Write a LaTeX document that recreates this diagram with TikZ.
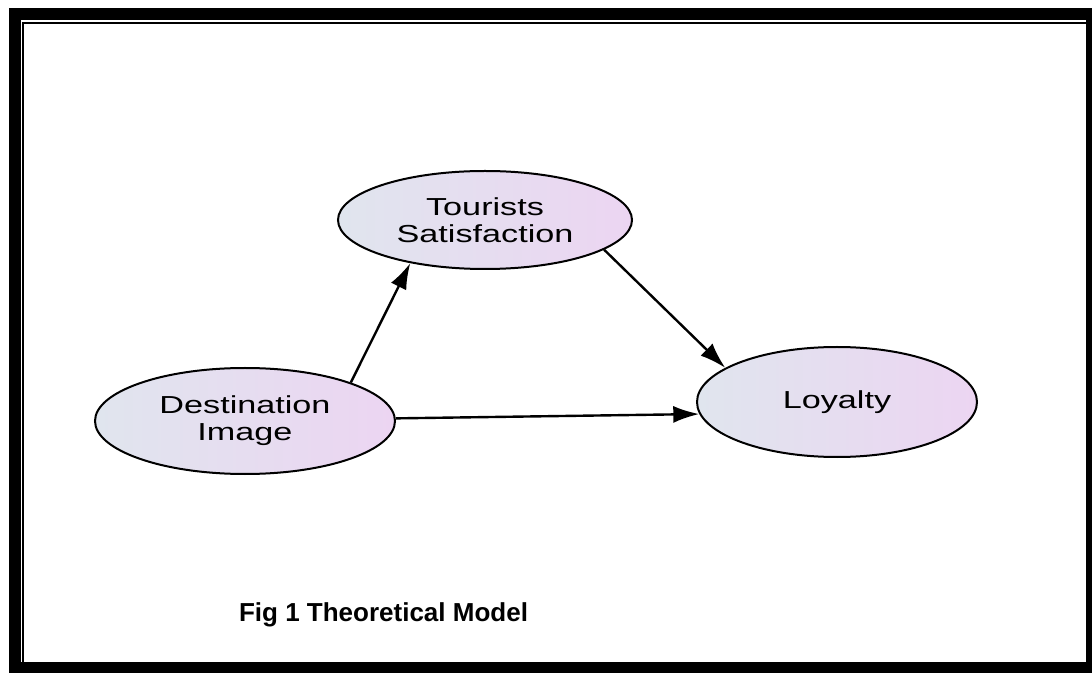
\documentclass[tikz,border=0pt]{standalone}
\usepackage{fontspec}
\setmainfont{Liberation Sans}
\newfontfamily\ovalfont[FakeStretch=1.39]{Liberation Sans}
\usetikzlibrary{arrows.meta}
\usetikzlibrary{shapes.geometric}
\definecolor{ovalleft}{RGB}{224,229,238}
\definecolor{ovalright}{RGB}{236,213,242}

\begin{document}
\begin{tikzpicture}[x=0.5pt,y=-0.5pt,
  oval/.style={ellipse, draw, line width=1pt, left color=ovalleft, right color=ovalright,
    align=center, inner sep=0pt, font=\ovalfont\fontsize{12.3}{13.5}\selectfont},
  link/.style={-{Latex[length=13pt,width=8.5pt]}, line width=1.2pt}]
% Page size (in px of the scan)
\useasboundingbox (0,0) rectangle (1092,673);
% Page border: thick frame with a thin inner rule
\fill (9,8) rectangle (1092,673);
\fill[white] (20.7,20) rectangle (1086,662);
\fill (22,22) rectangle (24,662);
\fill (22,22) rectangle (1086,24);
% Constructs
\node[oval, minimum width=147pt, minimum height=49pt] (TS) at (485,220) {Tourists\\Satisfaction};
\node[oval, minimum width=150pt, minimum height=53pt] (DI) at (245,421) {Destination\\Image};
\node[oval, minimum width=140pt, minimum height=55pt] (L) at (837,402) {Loyalty};
% Paths between constructs
\draw[link] (DI.20) -- (TS.210);
\draw[link] (TS.346) -- (L.163);
\draw[link] (DI.1) -- (L.185);
% Caption
\node[anchor=base west, font=\bfseries\fontsize{13}{15}\selectfont] (cap) at (232,621) {Fig 1 Theoretical Model};
\end{tikzpicture}
\end{document}
